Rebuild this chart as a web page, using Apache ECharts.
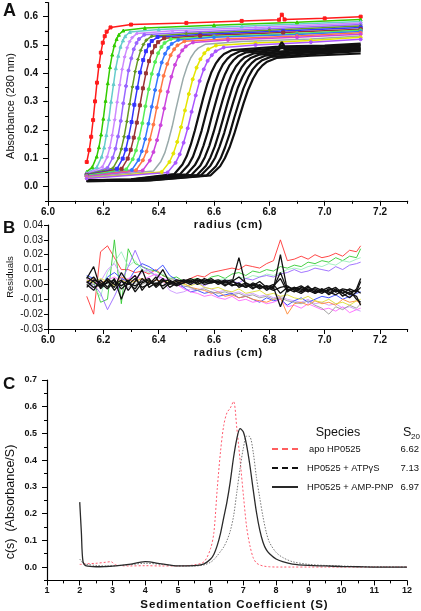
<!DOCTYPE html>
<html><head><meta charset="utf-8">
<script src="https://cdn.jsdelivr.net/npm/echarts@6/dist/echarts.min.js"></script>
<style>html,body{margin:0;padding:0;background:#fff}#c{width:421px;height:611px}</style>
</head><body><div id="c"></div>
<script>
// ---------- Panel A : absorbance scans ----------
const absColors = ['#ff1a1a','#33cc00','#66cccc','#cc88ff','#9966ff','#669922','#3333ff','#993333','#55ee55','#3377ff','#ff7744','#cc44dd','#99aaaa','#e5e500','#aa55ff','#111','#111','#111','#111','#111','#111','#111','#111'];
const absSymbols = ['rect','triangle','triangle','diamond','circle','diamond','rect','rect','circle','circle','circle','circle','none','circle','circle','none','none','none','none','none','none','none','none'];
const absRadius = [
 [6.140,6.149,6.156,6.163,6.170,6.177,6.184,6.191,6.198,6.205,6.212,6.226,6.30,6.50,6.70,6.835,6.845,6.855,7.00,7.13],
 [6.140,6.160,6.176,6.184,6.192,6.200,6.208,6.216,6.224,6.232,6.240,6.248,6.256,6.272,6.35,6.60,6.90,7.13],
 [6.140,6.177,6.194,6.203,6.211,6.220,6.228,6.237,6.245,6.254,6.262,6.271,6.279,6.296,6.40,6.70,7.13],
 [6.140,6.196,6.214,6.223,6.232,6.241,6.250,6.259,6.268,6.277,6.286,6.295,6.304,6.322,6.45,6.75,7.13],
 [6.140,6.215,6.234,6.244,6.253,6.263,6.272,6.282,6.291,6.301,6.310,6.320,6.329,6.348,6.50,6.80,7.13],
 [6.140,6.235,6.255,6.265,6.275,6.285,6.295,6.305,6.315,6.325,6.335,6.345,6.355,6.375,6.50,6.80,7.13],
 [6.140,6.249,6.270,6.281,6.291,6.302,6.312,6.323,6.333,6.344,6.354,6.365,6.375,6.396,6.55,6.85,7.13],
 [6.140,6.266,6.288,6.299,6.310,6.321,6.332,6.343,6.354,6.365,6.376,6.387,6.398,6.420,6.55,6.85,7.13],
 [6.140,6.283,6.306,6.318,6.329,6.341,6.352,6.364,6.375,6.387,6.398,6.410,6.421,6.444,6.60,6.90,7.13],
 [6.140,6.303,6.327,6.339,6.351,6.363,6.375,6.387,6.399,6.411,6.423,6.435,6.447,6.471,6.60,6.90,7.13],
 [6.140,6.318,6.343,6.356,6.368,6.381,6.393,6.406,6.418,6.431,6.443,6.456,6.468,6.493,6.65,6.90,7.13],
 [6.140,6.342,6.368,6.381,6.394,6.407,6.420,6.433,6.446,6.459,6.472,6.485,6.498,6.524,6.65,6.90,7.13],
 [6.140,6.381,6.408,6.422,6.435,6.449,6.462,6.476,6.489,6.503,6.516,6.530,6.543,6.570,6.70,6.95,7.13],
 [6.140,6.411,6.439,6.453,6.467,6.481,6.495,6.509,6.523,6.537,6.551,6.565,6.579,6.607,6.75,6.95,7.13],
 [6.140,6.432,6.461,6.476,6.490,6.505,6.519,6.534,6.548,6.563,6.577,6.592,6.606,6.635,6.75,6.95,7.13],
 [6.140,6.300,6.456,6.486,6.501,6.516,6.531,6.546,6.561,6.576,6.591,6.606,6.621,6.636,6.666,6.80,6.835,6.845,6.855,7.00,7.13],
 [6.140,6.300,6.477,6.508,6.524,6.539,6.555,6.570,6.586,6.601,6.617,6.632,6.648,6.663,6.694,6.82,7.00,7.13],
 [6.140,6.320,6.500,6.531,6.547,6.562,6.578,6.593,6.609,6.624,6.640,6.655,6.671,6.686,6.717,6.835,6.845,6.855,7.00,7.13],
 [6.140,6.330,6.519,6.551,6.567,6.583,6.599,6.615,6.631,6.647,6.663,6.679,6.695,6.711,6.743,6.88,7.00,7.13],
 [6.140,6.340,6.539,6.571,6.587,6.603,6.619,6.635,6.651,6.667,6.683,6.699,6.715,6.731,6.763,6.90,7.13],
 [6.140,6.350,6.554,6.587,6.604,6.620,6.637,6.653,6.670,6.686,6.703,6.719,6.736,6.752,6.785,6.92,7.13],
 [6.140,6.360,6.574,6.607,6.624,6.640,6.657,6.673,6.690,6.706,6.723,6.739,6.756,6.772,6.805,6.95,7.13],
 [6.140,6.370,6.588,6.622,6.639,6.656,6.673,6.690,6.707,6.724,6.741,6.758,6.775,6.792,6.826,6.95,7.13]
];
const absValue = [
 [0.087,0.129,0.176,0.235,0.301,0.367,0.426,0.473,0.508,0.531,0.547,0.562,0.572,0.578,0.585,0.589,0.607,0.590,0.594,0.600],
 [0.052,0.069,0.106,0.139,0.184,0.240,0.303,0.365,0.422,0.466,0.499,0.521,0.536,0.551,0.560,0.570,0.580,0.590],
 [0.048,0.069,0.106,0.138,0.182,0.238,0.300,0.362,0.418,0.462,0.494,0.516,0.531,0.546,0.555,0.566,0.583],
 [0.046,0.069,0.105,0.137,0.181,0.236,0.298,0.359,0.414,0.458,0.490,0.512,0.526,0.541,0.550,0.562,0.578],
 [0.044,0.066,0.102,0.134,0.177,0.232,0.294,0.355,0.410,0.453,0.485,0.507,0.521,0.536,0.545,0.557,0.572],
 [0.043,0.065,0.101,0.133,0.176,0.230,0.291,0.352,0.406,0.449,0.481,0.502,0.517,0.531,0.540,0.552,0.567],
 [0.041,0.063,0.099,0.131,0.174,0.228,0.289,0.349,0.403,0.447,0.478,0.499,0.514,0.528,0.537,0.549,0.562],
 [0.040,0.063,0.099,0.130,0.173,0.226,0.287,0.347,0.400,0.443,0.474,0.496,0.510,0.524,0.533,0.544,0.556],
 [0.039,0.061,0.097,0.128,0.170,0.224,0.284,0.344,0.398,0.440,0.471,0.493,0.507,0.521,0.530,0.541,0.552],
 [0.037,0.059,0.094,0.125,0.168,0.222,0.282,0.341,0.395,0.438,0.469,0.490,0.504,0.518,0.527,0.537,0.548],
 [0.036,0.058,0.093,0.124,0.166,0.219,0.279,0.338,0.391,0.433,0.464,0.485,0.499,0.513,0.522,0.532,0.543],
 [0.035,0.057,0.092,0.122,0.164,0.217,0.276,0.335,0.388,0.430,0.460,0.481,0.495,0.509,0.518,0.527,0.538],
 [0.032,0.055,0.089,0.119,0.161,0.213,0.272,0.331,0.383,0.425,0.455,0.476,0.489,0.503,0.512,0.521,0.532],
 [0.030,0.052,0.087,0.117,0.158,0.210,0.269,0.327,0.379,0.420,0.450,0.471,0.485,0.498,0.507,0.516,0.527],
 [0.029,0.050,0.084,0.114,0.155,0.206,0.264,0.322,0.373,0.414,0.444,0.464,0.478,0.491,0.500,0.510,0.520],
 [0.022,0.026,0.044,0.078,0.107,0.148,0.199,0.256,0.313,0.364,0.405,0.434,0.454,0.468,0.482,0.492,0.494,0.510,0.495,0.498,0.505],
 [0.022,0.025,0.044,0.077,0.106,0.147,0.197,0.254,0.311,0.361,0.402,0.431,0.451,0.464,0.478,0.488,0.494,0.500],
 [0.021,0.024,0.043,0.076,0.105,0.145,0.195,0.252,0.308,0.358,0.398,0.427,0.447,0.460,0.474,0.483,0.500,0.484,0.489,0.495],
 [0.021,0.024,0.042,0.075,0.104,0.144,0.194,0.250,0.305,0.355,0.395,0.424,0.443,0.457,0.470,0.480,0.485,0.490],
 [0.020,0.023,0.041,0.074,0.103,0.142,0.192,0.247,0.302,0.352,0.391,0.420,0.440,0.453,0.466,0.476,0.486],
 [0.020,0.023,0.041,0.074,0.102,0.141,0.190,0.245,0.300,0.349,0.388,0.416,0.436,0.449,0.462,0.472,0.482],
 [0.019,0.022,0.040,0.072,0.100,0.139,0.188,0.243,0.297,0.346,0.385,0.413,0.432,0.445,0.458,0.468,0.478],
 [0.019,0.022,0.040,0.072,0.100,0.138,0.186,0.241,0.295,0.343,0.381,0.409,0.428,0.441,0.454,0.462,0.470]
];
const radiusTicks = [6.0, 6.2, 6.4, 6.6, 6.8, 7.0, 7.2];
const radiusMinor = [6.1, 6.3, 6.5, 6.7, 6.9, 7.1, 7.3];
const absTicks = [0.0, 0.1, 0.2, 0.3, 0.4, 0.5, 0.6];
const absMinor = [-0.05, 0.05, 0.15, 0.25, 0.35, 0.45, 0.55, 0.65];

// ---------- Panel B : residuals ----------
const resRadius = [6.140,6.165,6.190,6.215,6.240,6.265,6.290,6.315,6.340,6.365,
 6.390,6.415,6.440,6.465,6.490,6.515,6.540,6.565,6.590,6.615,
 6.640,6.665,6.690,6.715,6.740,6.765,6.790,6.815,6.840,6.865,
 6.890,6.915,6.940,6.965,6.990,7.015,7.040,7.065,7.090,7.115,7.130];
const resColors = ['#ff3333','#33cc33','#99eebb','#9966ff','#cc99ff','#3344ff','#ff66ff','#ff8833','#999999','#dddd33','#111','#111','#111','#111','#111','#111'];
const resValue = [
 [-0.008,-0.020,0.022,0.026,0.018,0.010,0.010,0.008,0.009,0.007, 0.010,0.006,0.004,0.003,0.002,0.004,0.006,0.005,0.008,0.009, 0.010,0.011,0.010,0.013,0.012,0.011,0.014,0.016,0.030,0.016, 0.017,0.019,0.017,0.020,0.018,0.019,0.021,0.019,0.023,0.022, 0.026],
 [0.005,0.002,-0.012,-0.010,0.030,-0.013,0.024,0.014,0.012,0.010, 0.009,0.006,0.004,0.005,0.002,0.003,0.004,0.002,0.005,0.006, 0.004,0.007,0.008,0.006,0.009,0.008,0.010,0.009,0.012,0.011, 0.013,0.012,0.015,0.014,0.016,0.015,0.018,0.016,0.019,0.018, 0.024],
 [0.004,-0.002,-0.008,0.008,0.015,0.022,0.012,0.016,0.010,0.008, 0.006,0.007,0.004,0.003,0.001,0.002,0.000,0.002,0.001,0.003, 0.004,0.002,0.005,0.004,0.006,0.005,0.007,0.006,0.008,0.010, 0.011,0.010,0.012,0.013,0.012,0.014,0.013,0.016,0.015,0.017, 0.018],
 [0.002,0.000,-0.006,-0.017,-0.008,0.002,0.012,0.023,0.012,0.009, 0.006,0.004,0.002,0.000,-0.002,0.000,0.001,-0.001,0.002,0.001, 0.003,0.002,0.001,0.004,0.003,0.005,0.006,0.005,0.007,0.008, 0.010,0.008,0.009,0.011,0.010,0.009,0.012,0.010,0.013,0.014, 0.015],
 [0.003,-0.004,0.002,0.010,0.014,0.006,-0.004,0.003,0.008,0.010, 0.006,0.002,-0.004,-0.006,-0.005,-0.003,-0.004,-0.002,-0.003,-0.005, -0.004,-0.006,-0.005,-0.007,-0.006,-0.008,-0.007,-0.009,-0.008,-0.010, -0.011,-0.012,-0.010,-0.013,-0.012,-0.014,-0.013,-0.016,-0.015,-0.017, -0.018],
 [0.006,0.004,-0.002,0.005,0.008,0.004,0.002,0.010,0.014,0.012, 0.009,0.013,0.006,0.003,-0.002,-0.005,-0.004,-0.006,-0.005,-0.008, -0.007,-0.006,-0.009,-0.008,-0.010,-0.012,-0.009,-0.011,-0.010,-0.014, -0.011,-0.009,-0.012,-0.010,-0.008,-0.009,-0.007,-0.010,-0.008,-0.006, -0.005],
 [0.004,0.002,0.000,0.003,0.005,0.002,0.004,0.006,0.003,0.005, 0.007,0.004,0.002,0.000,-0.003,-0.005,-0.006,-0.008,-0.007,-0.009, -0.010,-0.008,-0.011,-0.010,-0.012,-0.011,-0.013,-0.012,-0.010,-0.015, -0.014,-0.016,-0.013,-0.015,-0.017,-0.016,-0.018,-0.015,-0.019,-0.017, -0.016],
 [0.002,0.004,0.001,0.003,0.000,0.005,0.003,0.002,0.004,0.001, 0.003,0.002,0.000,0.002,0.001,-0.002,-0.003,-0.004,-0.006,-0.005, -0.008,-0.007,-0.009,-0.008,-0.010,-0.011,-0.012,-0.010,-0.009,-0.020, -0.013,-0.012,-0.014,-0.011,-0.013,-0.012,-0.014,-0.010,-0.012,-0.011, -0.013],
 [0.001,0.000,0.002,-0.001,0.001,0.000,-0.002,0.001,0.000,0.002, 0.001,-0.001,0.000,0.001,-0.001,-0.002,-0.004,-0.003,-0.005,-0.006, -0.005,-0.007,-0.006,-0.008,-0.007,-0.009,-0.008,-0.010,-0.009,-0.011, -0.012,-0.013,-0.011,-0.014,-0.016,-0.020,-0.015,-0.017,-0.014,-0.016, -0.013],
 [0.003,0.001,0.004,0.002,-0.001,0.003,0.001,0.002,0.004,0.002, 0.000,0.003,0.001,0.002,0.000,-0.001,0.001,-0.002,-0.003,-0.002, -0.004,-0.005,-0.003,-0.006,-0.005,-0.004,-0.007,-0.006,-0.008,-0.007, -0.009,-0.010,-0.008,-0.011,-0.012,-0.010,-0.013,-0.012,-0.014,-0.011, -0.010],
 [0.004,0.012,-0.003,0.002,-0.002,0.008,0.001,-0.003,0.004,0.000, 0.003,0.010,0.001,0.003,0.002,0.004,0.002,0.003,0.001,0.002, 0.000,0.001,0.018,-0.001,0.000,-0.002,-0.001,-0.003,0.020,-0.004, -0.003,-0.005,-0.002,-0.004,-0.006,-0.003,-0.005,-0.004,-0.007,-0.003, 0.004],
 [0.000,-0.004,0.003,-0.002,0.004,-0.010,0.002,0.006,-0.004,0.002, -0.001,0.003,0.000,0.002,0.003,0.001,0.004,0.002,0.003,0.000, 0.002,-0.001,0.001,-0.002,0.000,-0.003,-0.001,-0.002,-0.015,-0.003, -0.005,-0.002,-0.004,-0.006,-0.003,-0.005,-0.007,-0.004,-0.006,-0.008, -0.014],
 [0.005,0.002,-0.002,0.004,0.000,0.003,-0.004,0.002,0.010,-0.002, 0.001,-0.001,0.002,0.000,0.003,0.002,0.001,0.004,0.002,0.001, 0.003,0.000,-0.001,0.001,-0.002,-0.001,-0.003,-0.002,0.008,-0.004, -0.002,-0.003,-0.005,-0.002,-0.004,-0.006,-0.003,-0.008,-0.005,-0.004, -0.006],
 [-0.002,0.003,0.001,-0.003,0.002,-0.001,0.003,-0.005,0.001,0.003, 0.000,0.004,-0.002,0.001,0.002,0.000,0.003,0.001,0.002,0.003, 0.001,0.002,0.000,-0.002,0.001,-0.001,-0.002,-0.004,-0.002,-0.001, -0.004,-0.006,-0.003,-0.005,-0.003,-0.007,-0.004,-0.006,-0.009,-0.005, -0.002],
 [0.002,-0.002,0.000,0.003,-0.004,0.002,0.000,0.004,-0.002,0.000, 0.005,-0.003,0.001,-0.001,0.001,0.003,0.000,0.002,0.004,0.001, 0.002,0.003,-0.002,0.000,-0.003,0.000,-0.004,-0.001,0.004,-0.005, -0.002,-0.004,-0.001,-0.006,-0.004,-0.002,-0.005,-0.003,-0.004,-0.010, -0.012],
 [0.001,0.005,-0.001,0.001,0.003,-0.003,0.001,-0.001,0.002,0.004, -0.002,0.002,0.003,0.000,0.001,0.002,0.003,0.000,0.001,0.002, -0.001,0.002,0.005,0.001,-0.001,0.002,-0.002,0.000,-0.006,-0.002, -0.003,-0.001,-0.004,-0.003,-0.005,-0.004,-0.002,-0.006,-0.003,-0.005, 0.002]
];

// ---------- Panel C : c(s) distributions ----------
const sedS = [2.0,2.05,2.1,2.2,2.5,2.8,2.95,3.1,3.5,4.0,4.5,5.0,5.5,5.8,
 6.0,6.1,6.2,6.3,6.4,6.5,6.6,6.7,6.8,6.9,7.0,7.1,7.2,7.3,7.4,7.5,7.6,7.7,7.8,
 8.0,8.2,8.5,9.0,9.5,10.0,10.5,11.0,12.0];
const csApo = [0.010,0.010,0.010,0.012,0.014,0.018,0.020,0.008,0.004,0.005,0.004,0.004,0.008,0.020,
 0.070,0.130,0.290,0.430,0.530,0.578,0.595,0.620,0.520,0.400,0.270,0.150,0.080,0.035,0.015,0.008,0.004,0.002,0.001,
 0.000,0.000,0.000,0.000,0.000,0.000,0.000,0.000,0.000];
const csATP = [0.030,0.022,0.015,0.010,0.006,0.004,0.004,0.005,0.008,0.014,0.010,0.004,0.004,0.008,
 0.018,0.028,0.042,0.058,0.075,0.100,0.135,0.190,0.280,0.370,0.445,0.490,0.488,0.430,0.335,0.260,0.188,0.130,0.092,
 0.055,0.036,0.020,0.010,0.006,0.004,0.002,0.001,0.000];
const csAMP = [0.243,0.130,0.020,0.004,0.001,0.002,0.003,0.004,0.010,0.020,0.012,0.004,0.005,0.012,
 0.030,0.048,0.080,0.125,0.185,0.245,0.320,0.410,0.480,0.518,0.505,0.455,0.380,0.290,0.205,0.139,0.093,0.065,0.050,
 0.030,0.020,0.011,0.006,0.004,0.002,0.001,0.000,0.000];
const speciesNames = ['apo HP0525', 'HP0525 + ATP\u03B3S', 'HP0525 + AMP-PNP'];
const speciesS20 = [6.62, 7.13, 6.97];
const csTicks = [0.0, 0.1, 0.2, 0.3, 0.4, 0.5, 0.6, 0.7];
const csMinor = [-0.05, 0.05, 0.15, 0.25, 0.35, 0.45, 0.55, 0.65];

// ---------- build ----------
const FF = '"Liberation Sans", Arial, Helvetica, sans-serif';
const sp = s => s.split('').join('\u200A');
const axLine = {show:true, onZero:false, lineStyle:{color:'#000', width:1.2}};
const tickStyle = {color:'#000', width:1};

function mainX(grid, min, max, ticks, fmt, fs){
  return {gridIndex:grid, type:'value', min:min, max:max, position:'bottom',
    axisLine:axLine, splitLine:{show:false},
    axisTick:{show:true, customValues:ticks, length:5, lineStyle:tickStyle},
    axisLabel:{customValues:ticks, formatter:fmt, fontSize:fs, fontWeight:'bold', color:'#111', margin:6, fontFamily:FF}};
}
function minorAx(grid, min, max, ticks, pos){
  return {gridIndex:grid, type:'value', min:min, max:max, position:pos, offset:0,
    axisLine:{show:false, onZero:false}, splitLine:{show:false},
    axisTick:{show:true, customValues:ticks, length:3, lineStyle:tickStyle},
    axisLabel:{show:false}};
}

const series = [];
absRadius.forEach((rs, i) => {
  const col = absColors[i];
  const black = i >= 15;
  series.push({type:'line', xAxisIndex:0, yAxisIndex:0, silent:true, animation:false,
    data: rs.map((r, j) => [r, absValue[i][j]]),
    symbol: absSymbols[i], symbolSize: 3, showAllSymbol:true,
    lineStyle:{color:col, width: black ? 2.2 : 1.5},
    itemStyle:{color:col, borderColor:col}, z: 2});
});
resValue.forEach((vals, i) => {
  series.push({type:'line', xAxisIndex:2, yAxisIndex:2, silent:true, animation:false,
    data: resRadius.map((r, j) => [r, vals[j]]), symbol:'none',
    lineStyle:{color:resColors[i], width: i >= 10 ? 1.3 : 0.9}, z: 2});
});
const csSets = [
  {vals:csApo, color:'#ff5a6e', type:[2,2], width:1},
  {vals:csATP, color:'#777777', type:[1.5,1.5], width:1},
  {vals:csAMP, color:'#2a2a2a', type:'solid', width:1.3}
];
csSets.forEach(c => {
  series.push({type:'line', xAxisIndex:4, yAxisIndex:3, silent:true, animation:false, smooth:0.3,
    data: sedS.map((s, j) => [s, c.vals[j]]), symbol:'none',
    lineStyle:{color:c.color, type:c.type, width:c.width}});
});

function txt(x, y, text, font, align, valign, rot){
  return {type:'text', x:x, y:y, rotation: rot || 0, silent:true,
    style:{text:text, font:font, fill:'#111', align:align, verticalAlign:valign, textAlign:align, textVerticalAlign:valign}};
}
const graphics = [
  txt(3, 2, 'A', 'bold 18px ' + FF, 'left', 'top'),
  txt(3, 220, 'B', 'bold 17px ' + FF, 'left', 'top'),
  txt(3, 376, 'C', 'bold 17px ' + FF, 'left', 'top'),
  txt(11, 106, 'Absorbance (280 nm)', '11px ' + FF, 'center', 'middle', Math.PI/2),
  txt(228, 225, sp('radius (cm)'), 'bold 11px ' + FF, 'center', 'middle'),
  txt(10, 277, 'Residuals', '9.5px ' + FF, 'center', 'middle', Math.PI/2),
  txt(228, 353, sp('radius (cm)'), 'bold 11px ' + FF, 'center', 'middle'),
  txt(11, 502, 'c(s)  (Absorbance/S)', '12.5px ' + FF, 'center', 'middle', Math.PI/2),
  txt(234, 605, sp('Sedimentation Coefficient (S)'), 'bold 11.5px ' + FF, 'center', 'middle'),
  txt(338, 433, 'Species', '12.5px ' + FF, 'center', 'middle'),
  txt(403, 433, 'S', '12.5px ' + FF, 'left', 'middle'),
  txt(411, 437, '20', '8px ' + FF, 'left', 'middle')
];
const legY = [449, 468, 487];
const legLine = [
  {stroke:'#ff2a2a', dash:[6,4], w:1.5},
  {stroke:'#111', dash:[6,4], w:1.8},
  {stroke:'#111', dash:null, w:1.8}
];
speciesNames.forEach((n, i) => {
  graphics.push({type:'line', silent:true, shape:{x1:272, y1:legY[i], x2:298, y2:legY[i]},
    style:{stroke:legLine[i].stroke, lineWidth:legLine[i].w, lineDash:legLine[i].dash}});
  graphics.push(txt(i === 0 ? 309 : 307, legY[i], n, '9.3px ' + FF, 'left', 'middle'));
  graphics.push(txt(419, legY[i], speciesS20[i].toFixed(2), '9.5px ' + FF, 'right', 'middle'));
});

const option = {
  backgroundColor:'#fff',
  animation:false,
  grid:[
    {left:48, top:2.5, width:359.7, height:198.3},
    {left:48, top:225, width:359.7, height:104},
    {left:47, top:380, width:360, height:200.4}
  ],
  xAxis:[
    mainX(0, 6.0, 7.3, radiusTicks, v => v.toFixed(1), 10),
    minorAx(0, 6.0, 7.3, radiusMinor, 'bottom'),
    mainX(1, 6.0, 7.3, radiusTicks, v => v.toFixed(1), 10),
    minorAx(1, 6.0, 7.3, radiusMinor, 'bottom'),
    {gridIndex:2, type:'value', min:1, max:12, interval:1, position:'bottom',
      axisLine:axLine, splitLine:{show:false},
      axisTick:{show:true, length:5, lineStyle:tickStyle},
      minorTick:{show:true, splitNumber:2, length:3, lineStyle:tickStyle},
      axisLabel:{fontSize:9, fontWeight:'bold', color:'#111', margin:6, fontFamily:FF}}
  ],
  yAxis:[
    {gridIndex:0, type:'value', min:-0.05, max:0.65, position:'left', axisLine:axLine, splitLine:{show:false},
      axisTick:{show:true, customValues:absTicks, length:5, lineStyle:tickStyle},
      axisLabel:{customValues:absTicks, formatter:v => v.toFixed(1), fontSize:10, fontWeight:'bold', color:'#111', margin:10, fontFamily:FF}},
    minorAx(0, -0.05, 0.65, absMinor, 'left'),
    {gridIndex:1, type:'value', min:-0.03, max:0.04, interval:0.01, position:'left', axisLine:axLine, splitLine:{show:false},
      axisTick:{show:true, length:4, lineStyle:tickStyle},
      axisLabel:{formatter:v => v.toFixed(2), fontSize:10, color:'#111', margin:5, fontFamily:FF}},
    {gridIndex:2, type:'value', min:-0.05, max:0.7, position:'left', axisLine:axLine, splitLine:{show:false},
      axisTick:{show:true, customValues:csTicks, length:5, lineStyle:tickStyle},
      axisLabel:{customValues:csTicks, formatter:v => v.toFixed(1), fontSize:9, fontWeight:'bold', color:'#111', margin:10, fontFamily:FF}},
    minorAx(2, -0.05, 0.7, csMinor, 'left')
  ],
  series: series,
  graphic: graphics
};
const chart = echarts.init(document.getElementById('c'), null, {renderer:'canvas'});
chart.setOption(option);
</script></body></html>
